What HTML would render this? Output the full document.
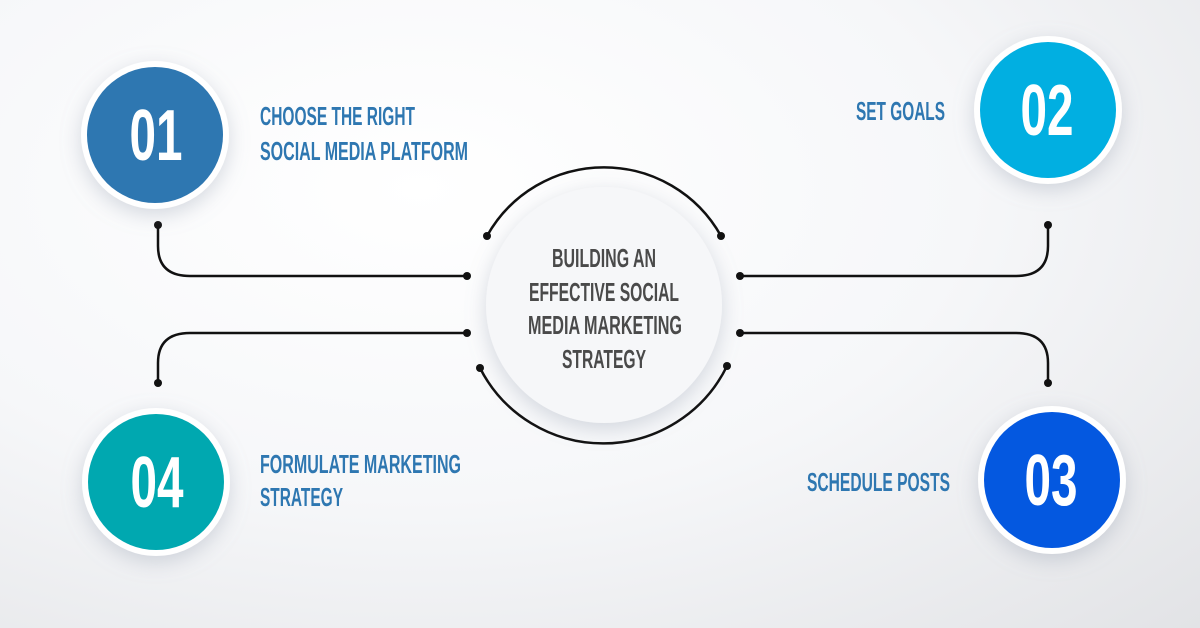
<!DOCTYPE html>
<html><head><meta charset="utf-8"><style>
html,body{margin:0;padding:0}
body{width:1200px;height:628px;overflow:hidden;background:radial-gradient(ellipse at 35% 30%,#ffffff 0%,#f6f7f9 50%,#e2e3e6 100%);}
svg{display:block}
text{font-family:"Liberation Sans Narrow","Liberation Sans",sans-serif;font-weight:bold}
</style></head><body>
<svg width="1200" height="628" viewBox="0 0 1200 628">
<defs>
<filter id="sh" x="-40%" y="-40%" width="180%" height="180%"><feDropShadow dx="0" dy="6" stdDeviation="10" flood-color="#8a95a8" flood-opacity="0.35"/></filter>
</defs>
<g fill="none" stroke="#111" stroke-width="2.5">
<path d="M487 236 A134 134 0 0 1 721 236"/>
<path d="M480 368 A138 138 0 0 0 727 366"/>
<path d="M158 225 V246 Q158 276 190 276 H467"/>
<path d="M1048 225 V246 Q1048 276 1016 276 H740"/>
<path d="M158 383 V363 Q158 333 190 333 H467"/>
<path d="M1048 383 V363 Q1048 333 1016 333 H740"/>
</g>
<g fill="#111">
<circle cx="487" cy="236" r="4"/><circle cx="721" cy="236" r="4"/>
<circle cx="480" cy="368" r="4"/><circle cx="727" cy="366" r="4"/>
<circle cx="158" cy="225" r="4"/><circle cx="467" cy="276" r="4"/>
<circle cx="1048" cy="225" r="4"/><circle cx="740" cy="276" r="4"/>
<circle cx="158" cy="383" r="4"/><circle cx="467" cy="333" r="4"/>
<circle cx="1048" cy="383" r="4"/><circle cx="740" cy="333" r="4"/>
</g>
<circle cx="604" cy="305" r="118" fill="#f6f7f9" filter="url(#sh)"/>
<g filter="url(#sh)">
<circle cx="155" cy="135" r="74" fill="#fff"/>
<circle cx="1048" cy="110" r="74" fill="#fff"/>
<circle cx="1052" cy="480" r="74" fill="#fff"/>
<circle cx="156" cy="482" r="74" fill="#fff"/>
</g>
<circle cx="155" cy="135" r="68" fill="#2e77b1"/>
<circle cx="1048" cy="110" r="68" fill="#01afe1"/>
<circle cx="1052" cy="480" r="68" fill="#0458e0"/>
<circle cx="156" cy="482" r="68" fill="#00a8b0"/>
<g fill="#fff" font-size="72" text-anchor="middle">
<text x="156" y="160" textLength="53" lengthAdjust="spacingAndGlyphs">01</text>
<text x="1047" y="135" textLength="53" lengthAdjust="spacingAndGlyphs">02</text>
<text x="1051" y="505" textLength="53" lengthAdjust="spacingAndGlyphs">03</text>
<text x="157" y="507" textLength="53" lengthAdjust="spacingAndGlyphs">04</text>
</g>
<g fill="#2e77b1" font-size="26">
<text x="260" y="125" textLength="155" lengthAdjust="spacingAndGlyphs">CHOOSE THE RIGHT</text>
<text x="260" y="160" textLength="208" lengthAdjust="spacingAndGlyphs">SOCIAL MEDIA PLATFORM</text>
<text x="856" y="120" textLength="89" lengthAdjust="spacingAndGlyphs">SET GOALS</text>
<text x="807" y="491" textLength="143" lengthAdjust="spacingAndGlyphs">SCHEDULE POSTS</text>
<text x="260" y="473" textLength="201" lengthAdjust="spacingAndGlyphs">FORMULATE MARKETING</text>
<text x="260" y="506" textLength="83" lengthAdjust="spacingAndGlyphs">STRATEGY</text>
</g>
<g fill="#4a4a4a" font-size="26">
<text x="552" y="267" textLength="104" lengthAdjust="spacingAndGlyphs">BUILDING AN</text>
<text x="529" y="301" textLength="150" lengthAdjust="spacingAndGlyphs">EFFECTIVE SOCIAL</text>
<text x="528" y="334" textLength="154" lengthAdjust="spacingAndGlyphs">MEDIA MARKETING</text>
<text x="562" y="368" textLength="84" lengthAdjust="spacingAndGlyphs">STRATEGY</text>
</g>
</svg>
</body></html>
